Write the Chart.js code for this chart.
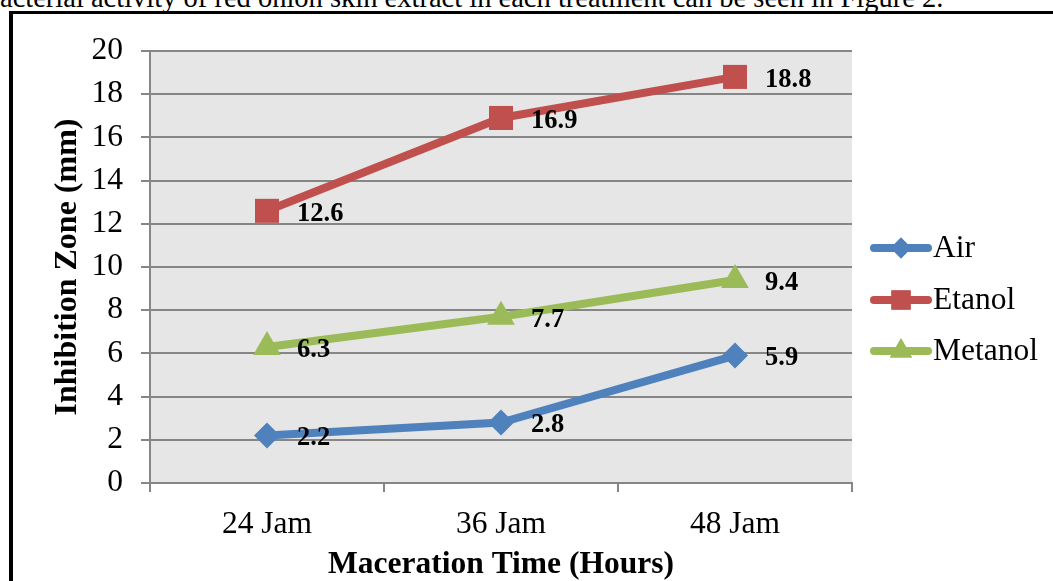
<!DOCTYPE html>
<html>
<head>
<meta charset="utf-8">
<script src="https://cdn.jsdelivr.net/npm/chart.js@4"></script>
<style>
  html, body { margin: 0; padding: 0; background: #fff; overflow: hidden; }
  #wrap { position: relative; width: 1053px; height: 581px; overflow: hidden; }
  #caption { position: absolute; left: 0; top: -18px; white-space: nowrap;
    font-family: "Liberation Serif", "Times New Roman", serif; font-size: 28.5px; color: #000; }
  #frame { position: absolute; left: 9px; top: 11px; width: 1100px; height: 600px;
    border-left: 4px solid #000; border-top: 3px solid #000; }
  canvas { position: absolute; left: 0; top: 0; }
</style>
</head>
<body>
<div id="wrap">
  <div id="caption">acterial activity of red onion skin extract in each treatment can be seen in Figure 2.</div>
  <div id="frame"></div>
  <canvas id="chart" width="1053" height="581"></canvas>
</div>
<script>
const categories = ['24 Jam', '36 Jam', '48 Jam'];
const airValues = [2.2, 2.8, 5.9];
const etanolValues = [12.6, 16.9, 18.8];
const metanolValues = [6.3, 7.7, 9.4];
const yTicks = [0, 2, 4, 6, 8, 10, 12, 14, 16, 18, 20];

const serif = '"Liberation Serif", "Times New Roman", serif';

// gray plot background
const plotBg = {
  id: 'plotBg',
  beforeDraw(chart) {
    const { ctx, chartArea: a } = chart;
    ctx.save();
    ctx.fillStyle = '#e6e6e6';
    ctx.fillRect(a.left, a.top, a.right - a.left, a.bottom - a.top);
    ctx.restore();
  }
};

// value labels to the right of each point
const valueLabels = {
  id: 'valueLabels',
  afterDatasetsDraw(chart) {
    const ctx = chart.ctx;
    ctx.save();
    ctx.font = 'bold 26.5px ' + serif;
    ctx.fillStyle = '#000';
    ctx.textAlign = 'left';
    ctx.textBaseline = 'middle';
    chart.data.datasets.forEach((ds, i) => {
      chart.getDatasetMeta(i).data.forEach((pt, j) => {
        ctx.fillText(ds.data[j].toFixed(1), pt.x + 30, pt.y + 3);
      });
    });
    ctx.restore();
  }
};

// legend on the right
const sideLegend = {
  id: 'sideLegend',
  afterDraw(chart) {
    const ctx = chart.ctx;
    const rows = [248, 300, 351];
    ctx.save();
    chart.data.datasets.forEach((ds, i) => {
      const y = rows[i];
      ctx.strokeStyle = ds.borderColor;
      ctx.lineWidth = 8;
      ctx.lineCap = 'round';
      ctx.beginPath();
      ctx.moveTo(874, y);
      ctx.lineTo(928, y);
      ctx.stroke();
      ctx.fillStyle = ds.borderColor;
      ctx.beginPath();
      Chart.helpers.drawPoint(ctx, {
        pointStyle: ds.pointStyle, radius: ds.pointRadius * 0.8, borderWidth: 0
      }, 901, y);
      ctx.fill();
      ctx.fillStyle = '#000';
      ctx.font = '31.5px ' + serif;
      ctx.textBaseline = 'middle';
      ctx.textAlign = 'left';
      ctx.fillText(ds.label, 933, y + 1);
    });
    ctx.restore();
  }
};

const makeSet = (label, data, color, style, r) => ({
  label, data,
  borderColor: color, backgroundColor: color,
  pointBackgroundColor: color, pointBorderColor: color,
  borderWidth: 8, pointStyle: style, pointRadius: r, pointBorderWidth: 0,
  pointHoverRadius: r, tension: 0
});

new Chart(document.getElementById('chart'), {
  type: 'line',
  data: {
    labels: categories,
    datasets: [
      makeSet('Air', airValues, '#4f81bd', 'rectRot', 13),
      makeSet('Etanol', etanolValues, '#c0504d', 'rect', 17),
      makeSet('Metanol', metanolValues, '#9bbb59', 'triangle', 16)
    ]
  },
  options: {
    responsive: false,
    animation: false,
    events: [],
    layout: { padding: { left: 0, top: 51, right: 201, bottom: 0 } },
    plugins: { legend: { display: false }, tooltip: { enabled: false } },
    scales: {
      x: {
        offset: true,
        afterFit(s) { s.height = 98; },
        border: { color: '#868686', width: 2 },
        grid: { drawOnChartArea: false, offset: true, color: '#868686', lineWidth: 2, tickLength: 9 },
        ticks: { color: '#000', font: { family: serif, size: 31.5 }, padding: 14 },
        title: { display: true, text: 'Maceration Time (Hours)', color: '#000',
          font: { family: serif, size: 31.5, weight: 'bold' }, padding: { top: 0, bottom: -3 } }
      },
      y: {
        min: 0, max: 20,
        afterFit(s) { s.width = 150; },
        afterBuildTicks(s) { s.ticks = yTicks.map(v => ({ value: v })); },
        border: { color: '#868686', width: 2 },
        grid: { color: '#868686', lineWidth: 2, tickLength: 9 },
        ticks: { color: '#000', font: { family: serif, size: 31.5 }, padding: 18 },
        title: { display: true, text: 'Inhibition Zone (mm)', color: '#000',
          font: { family: serif, size: 32, weight: 'bold' }, padding: { top: 49, bottom: 0 } }
      }
    }
  },
  plugins: [plotBg, valueLabels, sideLegend]
});
</script>
</body>
</html>
